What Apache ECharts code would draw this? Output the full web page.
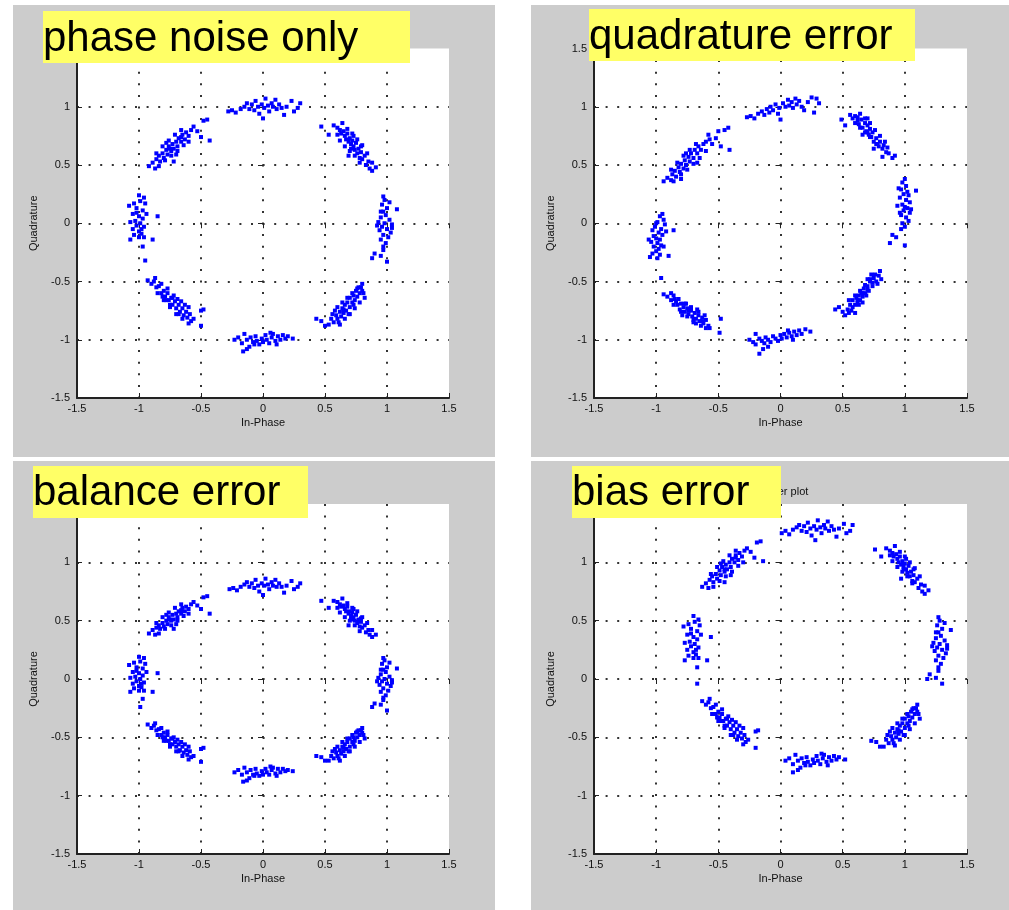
<!DOCTYPE html>
<html>
<head>
<meta charset="utf-8">
<title>IQ impairments</title>
<script src="https://cdn.jsdelivr.net/npm/echarts@6/dist/echarts.min.js"></script>
<style>
    html, body { margin: 0; padding: 0; background: #fff; }
    #main { width: 1009px; height: 910px; }
</style>
</head>
<body>
<div id="main"></div>
<script>
// labels
var panelTitles = ['phase noise only', 'quadrature error', 'balance error', 'bias error'];
var plotTitle = 'Scatter plot';
var xName = 'In-Phase';
var yName = 'Quadrature';
var axisMin = -1.5, axisMax = 1.5, axisStep = 0.5;

// 8-PSK points, cluster by cluster (90, 45, 0, -45, -90, -135, 180, 135 deg),
// last line = extra points filling the width of the diagonal clusters
var phaseNoise = [
    [-0.28,0.96],[-0.25,0.97],[-0.22,0.95],[-0.18,0.98],[-0.15,1.0],[-0.13,1.03],[-0.11,0.98],[-0.09,1.02],[-0.07,0.97],[-0.06,1.05],[-0.04,1.0],[-0.03,0.94],[-0.01,1.02],[0.0,0.9],[0.01,0.99],[0.02,1.07],[0.04,1.01],[0.05,0.96],[0.07,1.03],[0.08,1.0],[0.1,1.06],[0.11,0.98],[0.13,1.02],[0.15,0.99],[0.17,0.93],[0.19,1.0],[0.23,1.05],[0.25,0.96],[0.3,1.03],[0.28,0.99],
    [0.47,0.83],[0.53,0.76],[0.57,0.84],[0.6,0.82],[0.62,0.8],[0.63,0.77],[0.65,0.79],[0.66,0.75],[0.67,0.72],[0.68,0.77],[0.69,0.7],[0.7,0.73],[0.71,0.68],[0.72,0.71],[0.73,0.66],[0.74,0.63],[0.75,0.69],[0.76,0.6],[0.77,0.64],[0.78,0.56],[0.79,0.61],[0.8,0.55],[0.82,0.58],[0.83,0.5],[0.85,0.53],[0.86,0.47],[0.88,0.45],[0.91,0.48],[0.69,0.58],[0.73,0.75],
    [0.97,0.23],[0.98,0.2],[0.96,0.16],[1.0,0.13],[0.97,0.1],[1.08,0.12],[0.99,0.07],[0.95,0.05],[1.02,0.03],[0.93,0.01],[0.98,0.0],[1.04,-0.01],[0.96,-0.03],[1.0,-0.05],[0.94,-0.06],[1.03,-0.08],[0.97,-0.1],[1.01,-0.12],[0.95,-0.14],[0.99,-0.17],[0.97,-0.2],[0.9,-0.26],[0.88,-0.3],[0.95,-0.28],[1.0,-0.33],[0.97,-0.23],[1.02,0.18],[0.95,0.1],[1.04,-0.04],[0.92,-0.02],
    [0.43,-0.82],[0.47,-0.84],[0.5,-0.88],[0.53,-0.87],[0.55,-0.82],[0.57,-0.85],[0.59,-0.79],[0.6,-0.82],[0.62,-0.76],[0.63,-0.8],[0.64,-0.73],[0.65,-0.77],[0.66,-0.7],[0.67,-0.75],[0.68,-0.68],[0.7,-0.72],[0.7,-0.64],[0.72,-0.68],[0.73,-0.62],[0.74,-0.66],[0.75,-0.58],[0.76,-0.63],[0.78,-0.6],[0.79,-0.55],[0.8,-0.52],[0.81,-0.6],[0.58,-0.75],[0.61,-0.85],[0.69,-0.78],[0.77,-0.55],
    [-0.23,-1.0],[-0.2,-0.98],[-0.17,-1.03],[-0.15,-0.95],[-0.13,-1.0],[-0.11,-1.06],[-0.1,-0.98],[-0.08,-1.02],[-0.06,-0.97],[-0.05,-1.01],[-0.03,-1.04],[-0.01,-0.99],[0.0,-1.02],[0.02,-0.96],[0.03,-1.0],[0.05,-1.03],[0.07,-0.98],[0.08,-0.95],[0.1,-1.01],[0.12,-0.97],[0.14,-1.0],[0.16,-0.96],[0.18,-0.99],[0.2,-0.97],[0.24,-0.99],[-0.16,-1.1],[-0.13,-1.08],[-0.07,-1.04],[0.06,-0.94],[0.11,-1.04],
    [-0.93,-0.49],[-0.9,-0.52],[-0.88,-0.5],[-0.86,-0.55],[-0.84,-0.54],[-0.82,-0.6],[-0.8,-0.58],[-0.79,-0.63],[-0.77,-0.6],[-0.76,-0.66],[-0.74,-0.64],[-0.73,-0.7],[-0.71,-0.67],[-0.7,-0.73],[-0.68,-0.7],[-0.67,-0.76],[-0.65,-0.73],[-0.64,-0.79],[-0.62,-0.76],[-0.61,-0.81],[-0.59,-0.78],[-0.58,-0.84],[-0.56,-0.82],[-0.6,-0.86],[-0.75,-0.7],[-0.69,-0.65],[-0.5,-0.75],[-0.48,-0.74],[-0.5,-0.88],[-0.81,-0.63],
    [-1.0,0.24],[-0.96,0.22],[-1.04,0.17],[-0.99,0.19],[-0.95,0.17],[-1.02,0.13],[-0.97,0.11],[-1.05,0.08],[-1.0,0.06],[-0.97,0.04],[-1.03,0.02],[-1.07,0.01],[-0.99,0.0],[-1.02,-0.02],[-0.96,-0.03],[-1.05,-0.05],[-1.0,-0.07],[-0.98,-0.09],[-1.04,-0.1],[-1.0,-0.12],[-1.07,-0.14],[-0.96,-0.12],[-0.89,-0.14],[-0.85,0.06],[-0.97,-0.2],[-0.95,-0.32],[-1.08,0.15],[-0.94,0.08],[-1.02,0.09],[-0.98,-0.05],
    [-0.92,0.49],[-0.89,0.52],[-0.87,0.47],[-0.86,0.55],[-0.84,0.58],[-0.83,0.53],[-0.81,0.6],[-0.8,0.56],[-0.78,0.63],[-0.77,0.59],[-0.76,0.66],[-0.74,0.62],[-0.73,0.68],[-0.72,0.64],[-0.7,0.7],[-0.69,0.66],[-0.68,0.73],[-0.66,0.7],[-0.65,0.76],[-0.63,0.72],[-0.62,0.78],[-0.6,0.75],[-0.58,0.8],[-0.56,0.83],[-0.53,0.79],[-0.48,0.88],[-0.45,0.89],[-0.5,0.74],[-0.43,0.71],[-0.72,0.53],
    [0.62,0.71],[0.66,0.66],[0.7,0.62],[0.74,0.58],[0.78,0.52],[0.64,0.86],[0.68,0.81],[0.72,0.77],[0.76,0.72],[0.8,0.67],[0.84,0.6],[0.6,0.76],[0.71,0.64],[0.79,0.66],[0.88,0.52],
    [0.6,-0.72],[0.64,-0.68],[0.68,-0.64],[0.72,-0.6],[0.76,-0.56],[0.66,-0.82],[0.7,-0.78],[0.74,-0.73],[0.78,-0.68],[0.82,-0.64],[0.62,-0.87],[0.56,-0.78],[0.8,-0.58],[0.73,-0.7],[0.65,-0.74],
    [-0.85,-0.6],[-0.8,-0.66],[-0.75,-0.72],[-0.7,-0.78],[-0.65,-0.82],[-0.87,-0.47],[-0.82,-0.52],[-0.77,-0.56],[-0.72,-0.62],[-0.66,-0.67],[-0.6,-0.72],[-0.78,-0.66],[-0.68,-0.78],[-0.63,-0.7],[-0.73,-0.64],
    [-0.86,0.6],[-0.81,0.66],[-0.76,0.71],[-0.71,0.76],[-0.66,0.8],[-0.84,0.49],[-0.79,0.54],[-0.74,0.58],[-0.69,0.62],[-0.64,0.67],[-0.6,0.7],[-0.78,0.69],[-0.7,0.59],[-0.66,0.74],[-0.75,0.64]
];

var quadError = [
    [-0.27,0.91],[-0.24,0.92],[-0.21,0.9],[-0.18,0.94],[-0.15,0.96],[-0.13,0.93],[-0.11,0.98],[-0.09,0.95],[-0.08,1.0],[-0.06,0.97],[-0.04,1.02],[-0.02,0.94],[-0.01,0.99],[0.0,0.89],[0.02,1.03],[0.04,1.0],[0.06,1.06],[0.07,1.01],[0.09,1.04],[0.1,0.99],[0.12,1.07],[0.13,1.02],[0.15,1.05],[0.17,1.0],[0.19,0.97],[0.22,1.04],[0.25,1.08],[0.27,0.95],[0.31,1.03],[0.29,1.07],
    [0.49,0.89],[0.52,0.84],[0.56,0.93],[0.58,0.9],[0.6,0.92],[0.62,0.88],[0.63,0.85],[0.65,0.89],[0.66,0.82],[0.68,0.86],[0.69,0.79],[0.7,0.84],[0.71,0.76],[0.72,0.81],[0.73,0.74],[0.74,0.78],[0.75,0.7],[0.77,0.73],[0.78,0.68],[0.8,0.7],[0.82,0.64],[0.83,0.67],[0.85,0.61],[0.87,0.6],[0.9,0.56],[0.92,0.58],[0.75,0.64],[0.82,0.57],[0.66,0.76],[0.7,0.9],
    [1.0,0.38],[0.98,0.35],[1.01,0.32],[0.97,0.29],[1.02,0.27],[0.99,0.25],[1.09,0.28],[0.96,0.22],[1.01,0.2],[1.04,0.18],[0.98,0.16],[0.94,0.15],[1.02,0.13],[0.99,0.11],[1.04,0.09],[0.97,0.07],[1.01,0.05],[1.03,0.02],[0.98,0.0],[1.0,-0.03],[0.97,-0.05],[0.9,-0.1],[0.93,-0.12],[0.88,-0.17],[1.0,-0.19],[1.03,0.24],[0.95,0.3],[1.05,0.12],[0.96,0.09],[1.0,0.14],
    [0.44,-0.74],[0.47,-0.72],[0.5,-0.76],[0.52,-0.79],[0.54,-0.74],[0.56,-0.7],[0.57,-0.75],[0.58,-0.66],[0.6,-0.7],[0.61,-0.64],[0.62,-0.68],[0.63,-0.62],[0.64,-0.66],[0.65,-0.6],[0.66,-0.63],[0.67,-0.56],[0.68,-0.6],[0.7,-0.54],[0.71,-0.58],[0.72,-0.5],[0.74,-0.54],[0.75,-0.47],[0.77,-0.5],[0.79,-0.45],[0.8,-0.41],[0.81,-0.48],[0.6,-0.77],[0.66,-0.68],[0.73,-0.44],[0.55,-0.66],
    [-0.25,-1.0],[-0.22,-1.02],[-0.2,-1.04],[-0.17,-0.99],[-0.15,-1.01],[-0.13,-1.03],[-0.12,-0.98],[-0.1,-1.0],[-0.08,-1.02],[-0.06,-0.97],[-0.04,-0.99],[-0.02,-1.01],[0.0,-0.96],[0.01,-0.99],[0.03,-0.95],[0.05,-0.98],[0.07,-0.94],[0.09,-0.97],[0.11,-0.93],[0.13,-0.96],[0.15,-0.92],[0.17,-0.95],[0.2,-0.91],[0.24,-0.93],[-0.14,-1.08],[-0.17,-1.12],[-0.1,-1.06],[0.06,-0.92],[0.1,-1.0],[-0.2,-0.95],
    [-0.94,-0.61],[-0.91,-0.63],[-0.88,-0.66],[-0.86,-0.62],[-0.84,-0.67],[-0.83,-0.7],[-0.81,-0.74],[-0.8,-0.69],[-0.78,-0.72],[-0.77,-0.76],[-0.75,-0.73],[-0.74,-0.78],[-0.72,-0.75],[-0.71,-0.8],[-0.69,-0.77],[-0.68,-0.82],[-0.66,-0.79],[-0.65,-0.84],[-0.63,-0.81],[-0.62,-0.86],[-0.6,-0.83],[-0.58,-0.88],[-0.57,-0.9],[-0.48,-0.82],[-0.49,-0.94],[-0.7,-0.85],[-0.76,-0.69],[-0.67,-0.74],[-0.6,-0.9],[-0.85,-0.65],
    [-0.95,0.08],[-0.97,0.06],[-0.94,0.03],[-0.99,0.01],[-0.93,-0.01],[-1.01,-0.03],[-0.96,-0.05],[-1.03,-0.06],[-0.98,-0.08],[-0.95,-0.1],[-1.02,-0.11],[-1.0,-0.13],[-0.97,-0.14],[-1.04,-0.16],[-0.99,-0.17],[-0.96,-0.19],[-1.02,-0.2],[-0.98,-0.22],[-1.0,-0.24],[-1.03,-0.26],[-0.97,-0.27],[-1.05,-0.29],[-0.99,-0.3],[-0.9,-0.28],[-0.86,-0.06],[-0.94,-0.2],[-1.06,-0.14],[-0.92,-0.07],[-0.96,-0.47],[-1.0,0.0],
    [-0.94,0.36],[-0.91,0.39],[-0.88,0.37],[-0.87,0.42],[-0.85,0.45],[-0.84,0.4],[-0.82,0.48],[-0.81,0.44],[-0.8,0.51],[-0.78,0.47],[-0.77,0.54],[-0.76,0.5],[-0.74,0.57],[-0.73,0.53],[-0.72,0.6],[-0.7,0.56],[-0.69,0.63],[-0.67,0.6],[-0.66,0.66],[-0.64,0.63],[-0.62,0.68],[-0.6,0.7],[-0.57,0.72],[-0.52,0.73],[-0.5,0.79],[-0.45,0.8],[-0.42,0.82],[-0.48,0.66],[-0.41,0.63],[-0.8,0.38],
    [0.6,0.86],[0.64,0.82],[0.68,0.78],[0.72,0.74],[0.77,0.68],[0.64,0.94],[0.68,0.9],[0.72,0.86],[0.76,0.8],[0.8,0.75],[0.84,0.7],[0.86,0.65],[0.7,0.78],[0.79,0.66],[0.62,0.91],
    [0.58,-0.72],[0.62,-0.66],[0.66,-0.6],[0.7,-0.57],[0.74,-0.51],[0.6,-0.62],[0.64,-0.58],[0.68,-0.53],[0.72,-0.48],[0.76,-0.44],[0.55,-0.77],[0.78,-0.52],[0.69,-0.62],[0.63,-0.7],[0.7,-0.48],
    [-0.86,-0.7],[-0.8,-0.76],[-0.75,-0.8],[-0.7,-0.83],[-0.64,-0.88],[-0.88,-0.6],[-0.82,-0.65],[-0.77,-0.69],[-0.72,-0.72],[-0.66,-0.76],[-0.61,-0.79],[-0.79,-0.79],[-0.68,-0.86],[-0.74,-0.75],[-0.63,-0.84],
    [-0.88,0.46],[-0.83,0.52],[-0.78,0.58],[-0.73,0.63],[-0.68,0.68],[-0.86,0.36],[-0.8,0.42],[-0.75,0.46],[-0.7,0.51],[-0.65,0.56],[-0.6,0.62],[-0.55,0.68],[-0.76,0.6],[-0.67,0.52],[-0.58,0.76]
];

var balanceError = [
    [-0.27,0.77],[-0.24,0.78],[-0.21,0.76],[-0.18,0.79],[-0.15,0.81],[-0.13,0.83],[-0.11,0.79],[-0.09,0.82],[-0.07,0.78],[-0.06,0.85],[-0.04,0.8],[-0.03,0.75],[-0.01,0.82],[0.0,0.72],[0.01,0.8],[0.02,0.86],[0.04,0.81],[0.05,0.77],[0.07,0.83],[0.08,0.8],[0.1,0.85],[0.11,0.79],[0.13,0.82],[0.15,0.79],[0.17,0.74],[0.19,0.8],[0.23,0.84],[0.25,0.77],[0.3,0.82],[0.28,0.79],
    [0.47,0.67],[0.53,0.61],[0.57,0.67],[0.6,0.66],[0.62,0.64],[0.63,0.62],[0.65,0.63],[0.66,0.6],[0.67,0.58],[0.68,0.62],[0.69,0.56],[0.7,0.58],[0.71,0.54],[0.72,0.57],[0.73,0.53],[0.74,0.5],[0.75,0.55],[0.76,0.48],[0.77,0.51],[0.78,0.45],[0.79,0.49],[0.8,0.44],[0.82,0.46],[0.83,0.4],[0.85,0.42],[0.86,0.38],[0.88,0.36],[0.91,0.38],[0.69,0.46],[0.73,0.6],
    [0.97,0.18],[0.98,0.16],[0.96,0.13],[1.0,0.1],[0.97,0.08],[1.08,0.09],[0.99,0.06],[0.95,0.04],[1.02,0.02],[0.93,0.01],[0.98,0.0],[1.04,-0.01],[0.96,-0.02],[1.0,-0.04],[0.94,-0.05],[1.03,-0.06],[0.97,-0.08],[1.01,-0.1],[0.95,-0.11],[0.99,-0.14],[0.97,-0.16],[0.9,-0.21],[0.88,-0.24],[0.95,-0.22],[1.0,-0.27],[0.97,-0.18],[1.02,0.14],[0.95,0.08],[1.04,-0.03],[0.92,-0.02],
    [0.43,-0.66],[0.47,-0.67],[0.5,-0.7],[0.53,-0.7],[0.55,-0.66],[0.57,-0.68],[0.59,-0.63],[0.6,-0.66],[0.62,-0.61],[0.63,-0.64],[0.64,-0.58],[0.65,-0.62],[0.66,-0.56],[0.67,-0.6],[0.68,-0.54],[0.7,-0.58],[0.7,-0.51],[0.72,-0.54],[0.73,-0.5],[0.74,-0.53],[0.75,-0.46],[0.76,-0.5],[0.78,-0.48],[0.79,-0.44],[0.8,-0.42],[0.81,-0.48],[0.58,-0.6],[0.61,-0.68],[0.69,-0.62],[0.77,-0.44],
    [-0.23,-0.8],[-0.2,-0.78],[-0.17,-0.82],[-0.15,-0.76],[-0.13,-0.8],[-0.11,-0.85],[-0.1,-0.78],[-0.08,-0.82],[-0.06,-0.77],[-0.05,-0.81],[-0.03,-0.83],[-0.01,-0.79],[0.0,-0.82],[0.02,-0.77],[0.03,-0.8],[0.05,-0.82],[0.07,-0.78],[0.08,-0.76],[0.1,-0.81],[0.12,-0.77],[0.14,-0.8],[0.16,-0.77],[0.18,-0.79],[0.2,-0.78],[0.24,-0.79],[-0.16,-0.88],[-0.13,-0.87],[-0.07,-0.83],[0.06,-0.75],[0.11,-0.83],
    [-0.93,-0.39],[-0.9,-0.42],[-0.88,-0.4],[-0.86,-0.44],[-0.84,-0.43],[-0.82,-0.48],[-0.8,-0.46],[-0.79,-0.5],[-0.77,-0.48],[-0.76,-0.53],[-0.74,-0.51],[-0.73,-0.56],[-0.71,-0.54],[-0.7,-0.58],[-0.68,-0.56],[-0.67,-0.61],[-0.65,-0.58],[-0.64,-0.63],[-0.62,-0.61],[-0.61,-0.65],[-0.59,-0.62],[-0.58,-0.67],[-0.56,-0.66],[-0.6,-0.69],[-0.75,-0.56],[-0.69,-0.52],[-0.5,-0.6],[-0.48,-0.59],[-0.5,-0.71],[-0.81,-0.5],
    [-1.0,0.19],[-0.96,0.18],[-1.04,0.14],[-0.99,0.15],[-0.95,0.13],[-1.02,0.1],[-0.97,0.09],[-1.05,0.06],[-1.0,0.05],[-0.97,0.03],[-1.03,0.02],[-1.07,0.01],[-0.99,0.0],[-1.02,-0.02],[-0.96,-0.03],[-1.05,-0.04],[-1.0,-0.06],[-0.98,-0.07],[-1.04,-0.08],[-1.0,-0.1],[-1.07,-0.11],[-0.96,-0.1],[-0.89,-0.11],[-0.85,0.05],[-0.97,-0.17],[-0.99,-0.24],[-1.08,0.12],[-0.94,0.06],[-1.02,0.07],[-0.98,-0.04],
    [-0.92,0.39],[-0.89,0.42],[-0.87,0.38],[-0.86,0.44],[-0.84,0.46],[-0.83,0.43],[-0.81,0.48],[-0.8,0.45],[-0.78,0.5],[-0.77,0.47],[-0.76,0.53],[-0.74,0.5],[-0.73,0.55],[-0.72,0.51],[-0.7,0.56],[-0.69,0.53],[-0.68,0.58],[-0.66,0.56],[-0.65,0.61],[-0.63,0.58],[-0.62,0.62],[-0.6,0.6],[-0.58,0.64],[-0.56,0.66],[-0.53,0.63],[-0.48,0.7],[-0.45,0.71],[-0.5,0.6],[-0.43,0.56],[-0.72,0.43],
    [0.62,0.57],[0.66,0.53],[0.7,0.5],[0.74,0.46],[0.78,0.41],[0.64,0.69],[0.68,0.65],[0.72,0.61],[0.76,0.58],[0.8,0.53],[0.84,0.48],[0.6,0.61],[0.71,0.51],[0.79,0.52],[0.88,0.42],
    [0.6,-0.58],[0.64,-0.54],[0.68,-0.51],[0.72,-0.48],[0.76,-0.45],[0.66,-0.66],[0.7,-0.62],[0.74,-0.58],[0.78,-0.54],[0.82,-0.51],[0.62,-0.7],[0.56,-0.62],[0.8,-0.46],[0.73,-0.56],[0.65,-0.59],
    [-0.85,-0.48],[-0.8,-0.53],[-0.75,-0.58],[-0.7,-0.62],[-0.65,-0.66],[-0.87,-0.38],[-0.82,-0.42],[-0.77,-0.45],[-0.72,-0.5],[-0.66,-0.54],[-0.6,-0.58],[-0.78,-0.53],[-0.68,-0.62],[-0.63,-0.56],[-0.73,-0.51],
    [-0.86,0.48],[-0.81,0.53],[-0.76,0.57],[-0.71,0.61],[-0.66,0.64],[-0.84,0.39],[-0.79,0.43],[-0.74,0.46],[-0.69,0.5],[-0.64,0.54],[-0.6,0.56],[-0.78,0.55],[-0.7,0.47],[-0.66,0.59],[-0.75,0.51]
];

var biasError = [
    [0.01,1.25],[0.04,1.27],[0.07,1.24],[0.1,1.28],[0.13,1.3],[0.15,1.32],[0.17,1.27],[0.19,1.31],[0.21,1.26],[0.22,1.34],[0.24,1.29],[0.25,1.23],[0.27,1.31],[0.28,1.19],[0.29,1.28],[0.3,1.36],[0.32,1.3],[0.33,1.25],[0.35,1.32],[0.36,1.29],[0.38,1.35],[0.39,1.27],[0.41,1.31],[0.43,1.28],[0.45,1.22],[0.47,1.29],[0.51,1.33],[0.53,1.25],[0.58,1.32],[0.56,1.27],
    [0.76,1.11],[0.81,1.05],[0.85,1.12],[0.88,1.1],[0.9,1.08],[0.91,1.05],[0.93,1.07],[0.94,1.03],[0.95,1.0],[0.96,1.05],[0.97,0.98],[0.98,1.01],[0.99,0.96],[1.0,0.99],[1.01,0.94],[1.02,0.91],[1.03,0.97],[1.04,0.88],[1.05,0.92],[1.06,0.84],[1.07,0.89],[1.08,0.83],[1.1,0.86],[1.11,0.78],[1.13,0.81],[1.14,0.75],[1.16,0.73],[1.19,0.76],[0.97,0.86],[1.01,1.03],
    [1.27,0.53],[1.28,0.5],[1.26,0.46],[1.3,0.43],[1.27,0.4],[1.37,0.42],[1.29,0.37],[1.25,0.35],[1.32,0.33],[1.23,0.31],[1.28,0.3],[1.34,0.29],[1.26,0.27],[1.3,0.25],[1.24,0.24],[1.33,0.22],[1.27,0.2],[1.31,0.18],[1.25,0.16],[1.29,0.13],[1.27,0.1],[1.2,0.04],[1.18,0.0],[1.25,0.01],[1.3,-0.04],[1.27,0.07],[1.32,0.48],[1.25,0.4],[1.34,0.26],[1.22,0.28],
    [0.73,-0.53],[0.77,-0.54],[0.8,-0.58],[0.83,-0.58],[0.85,-0.52],[0.87,-0.55],[0.89,-0.49],[0.9,-0.52],[0.92,-0.46],[0.93,-0.5],[0.94,-0.43],[0.95,-0.47],[0.96,-0.4],[0.97,-0.45],[0.98,-0.38],[1.0,-0.42],[1.0,-0.34],[1.02,-0.38],[1.03,-0.32],[1.04,-0.36],[1.05,-0.28],[1.06,-0.33],[1.08,-0.3],[1.09,-0.25],[1.1,-0.22],[1.11,-0.3],[0.88,-0.45],[0.91,-0.55],[0.99,-0.48],[1.07,-0.25],
    [0.04,-0.7],[0.07,-0.68],[0.1,-0.73],[0.12,-0.65],[0.14,-0.7],[0.16,-0.76],[0.17,-0.68],[0.19,-0.72],[0.21,-0.67],[0.22,-0.71],[0.24,-0.74],[0.26,-0.69],[0.27,-0.72],[0.29,-0.66],[0.3,-0.7],[0.32,-0.73],[0.34,-0.68],[0.35,-0.65],[0.37,-0.71],[0.39,-0.67],[0.41,-0.7],[0.43,-0.66],[0.45,-0.69],[0.47,-0.67],[0.52,-0.69],[0.1,-0.8],[0.14,-0.78],[0.2,-0.74],[0.33,-0.64],[0.38,-0.74],
    [-0.63,-0.19],[-0.6,-0.22],[-0.58,-0.2],[-0.56,-0.25],[-0.54,-0.24],[-0.52,-0.3],[-0.5,-0.28],[-0.49,-0.33],[-0.47,-0.3],[-0.46,-0.36],[-0.44,-0.34],[-0.43,-0.4],[-0.41,-0.37],[-0.4,-0.43],[-0.38,-0.4],[-0.37,-0.46],[-0.35,-0.43],[-0.34,-0.49],[-0.32,-0.46],[-0.31,-0.51],[-0.29,-0.48],[-0.28,-0.54],[-0.26,-0.52],[-0.3,-0.56],[-0.45,-0.4],[-0.39,-0.35],[-0.2,-0.45],[-0.18,-0.44],[-0.2,-0.59],[-0.51,-0.33],
    [-0.7,0.54],[-0.66,0.51],[-0.74,0.47],[-0.69,0.49],[-0.65,0.46],[-0.72,0.43],[-0.67,0.41],[-0.75,0.38],[-0.7,0.36],[-0.67,0.34],[-0.73,0.32],[-0.77,0.31],[-0.69,0.3],[-0.72,0.28],[-0.66,0.27],[-0.75,0.25],[-0.7,0.23],[-0.68,0.21],[-0.74,0.2],[-0.7,0.18],[-0.77,0.16],[-0.66,0.18],[-0.59,0.16],[-0.56,0.36],[-0.67,0.1],[-0.67,-0.04],[-0.78,0.45],[-0.64,0.38],[-0.72,0.39],[-0.68,0.25],
    [-0.63,0.79],[-0.6,0.82],[-0.58,0.78],[-0.57,0.85],[-0.55,0.88],[-0.54,0.83],[-0.52,0.9],[-0.51,0.86],[-0.49,0.93],[-0.48,0.89],[-0.47,0.96],[-0.45,0.92],[-0.44,0.98],[-0.43,0.94],[-0.41,1.0],[-0.4,0.96],[-0.39,1.03],[-0.37,1.0],[-0.36,1.06],[-0.34,1.02],[-0.33,1.08],[-0.31,1.05],[-0.29,1.1],[-0.27,1.12],[-0.24,1.09],[-0.19,1.17],[-0.16,1.18],[-0.21,1.04],[-0.14,1.01],[-0.45,0.83],
    [0.9,1.01],[0.94,0.96],[0.98,0.92],[1.02,0.88],[1.06,0.82],[0.92,1.14],[0.96,1.09],[1.0,1.05],[1.04,1.0],[1.08,0.95],[1.12,0.88],[0.88,1.06],[0.99,0.94],[1.07,0.94],[1.16,0.8],
    [0.9,-0.42],[0.94,-0.38],[0.98,-0.34],[1.02,-0.3],[1.06,-0.26],[0.96,-0.52],[1.0,-0.48],[1.04,-0.43],[1.08,-0.38],[1.12,-0.34],[0.92,-0.57],[0.86,-0.48],[1.1,-0.28],[1.03,-0.4],[0.95,-0.44],
    [-0.55,-0.3],[-0.5,-0.36],[-0.45,-0.42],[-0.4,-0.48],[-0.35,-0.52],[-0.57,-0.17],[-0.52,-0.22],[-0.47,-0.26],[-0.42,-0.32],[-0.36,-0.37],[-0.3,-0.42],[-0.48,-0.36],[-0.38,-0.48],[-0.33,-0.4],[-0.43,-0.34],
    [-0.56,0.9],[-0.51,0.96],[-0.46,1.01],[-0.41,1.06],[-0.36,1.1],[-0.54,0.79],[-0.49,0.84],[-0.44,0.88],[-0.39,0.92],[-0.34,0.97],[-0.3,1.0],[-0.48,0.99],[-0.4,0.89],[-0.36,1.04],[-0.45,0.94]
];

var panelData = [phaseNoise, quadError, balanceError, biasError];
</script>
<script>
(function () {
    var font = 'Liberation Sans';
    var myChart = echarts.init(document.getElementById('main'));

    // 每个子图的位置：绘图区、黄色标签框、标签基线
    var layout = [
        { grid: [77, 48.5, 372, 349.5], box: [43, 11, 367, 52], base: 53.5 },
        { grid: [594, 48.5, 373, 349.5], box: [589, 9, 326, 52], base: 51.7 },
        { grid: [77, 504, 372, 350], box: [33, 466, 275, 52], base: 507.7 },
        { grid: [594, 504, 373, 350], box: [572, 466, 209, 52], base: 507.7 }
    ];

    var grids = [], xAxes = [], yAxes = [], series = [], graphics = [];

    // 面板之间的白色空隙
    [[0, 0, 13, 910], [0, 0, 1009, 5], [495, 0, 36, 910], [0, 457, 1009, 4]].forEach(function (r) {
        graphics.push({ type: 'rect', z: 1, silent: true,
            shape: { x: r[0], y: r[1], width: r[2], height: r[3] }, style: { fill: '#ffffff' } });
    });

    var dotted = { color: '#333', width: 2, type: [2, 9.6] };
    var tick = { show: true, inside: true, length: 5, lineStyle: { color: '#222', width: 1 } };

    layout.forEach(function (p, i) {
        var g = p.grid;
        grids.push({ left: g[0], top: g[1], width: g[2], height: g[3], show: true,
            backgroundColor: '#ffffff', borderWidth: 0, containLabel: false });

        var base = { type: 'value', gridIndex: i, min: axisMin, max: axisMax, interval: axisStep };
        xAxes.push(Object.assign({}, base, {
            position: 'bottom',
            name: xName, nameLocation: 'middle', nameGap: 19,
            nameTextStyle: { color: '#111', fontSize: 11, fontFamily: font },
            axisLine: { show: true, onZero: false, lineStyle: { color: '#222', width: 2 } },
            axisTick: tick,
            axisLabel: { color: '#111', fontSize: 11, margin: 5, fontFamily: font },
            splitLine: { show: true, showMinLine: false, showMaxLine: false, lineStyle: dotted }
        }));
        xAxes.push(Object.assign({}, base, {
            position: 'top',
            axisLine: { show: false }, axisTick: tick, axisLabel: { show: false }, splitLine: { show: false }
        }));
        yAxes.push(Object.assign({}, base, {
            position: 'left',
            name: yName, nameLocation: 'middle', nameGap: 38,
            nameTextStyle: { color: '#111', fontSize: 11, fontFamily: font },
            axisLine: { show: true, onZero: false, lineStyle: { color: '#222', width: 2 } },
            axisTick: tick,
            axisLabel: { color: '#111', fontSize: 11, margin: 7, fontFamily: font },
            splitLine: { show: true, showMinLine: false, showMaxLine: false, lineStyle: dotted }
        }));
        yAxes.push(Object.assign({}, base, {
            position: 'right',
            axisLine: { show: false }, axisTick: tick, axisLabel: { show: false }, splitLine: { show: false }
        }));

        series.push({
            type: 'scatter',
            xAxisIndex: 2 * i, yAxisIndex: 2 * i,
            symbol: 'rect', symbolSize: 4,
            itemStyle: { color: '#0000ff', opacity: 1 },
            silent: true,
            data: panelData[i]
        });

        // 图框上方的原标题（大多被黄色标签挡住）
        graphics.push({ type: 'text', z: 50, silent: true,
            x: g[0] + g[2] / 2, y: g[1] - 12,
            style: { text: plotTitle, fill: '#111', font: '11px "' + font + '"', align: 'center', verticalAlign: 'middle' } });

        // 黄色标签
        var b = p.box;
        graphics.push({ type: 'rect', z: 100, silent: true,
            shape: { x: b[0], y: b[1], width: b[2], height: b[3] }, style: { fill: '#ffff66' } });
        graphics.push({ type: 'text', z: 101, silent: true,
            x: b[0], y: p.base - 14.5,
            style: { text: panelTitles[i], fill: '#000', font: '42px "' + font + '"', align: 'left', verticalAlign: 'middle' } });
    });

    var option = {
        animation: false,
        backgroundColor: '#cccccc',
        grid: grids,
        xAxis: xAxes,
        yAxis: yAxes,
        series: series,
        graphic: { elements: graphics }
    };

    myChart.setOption(option);

    window.addEventListener('resize', function () {
        myChart.resize();
    });
})();
</script>
</body>
</html>
